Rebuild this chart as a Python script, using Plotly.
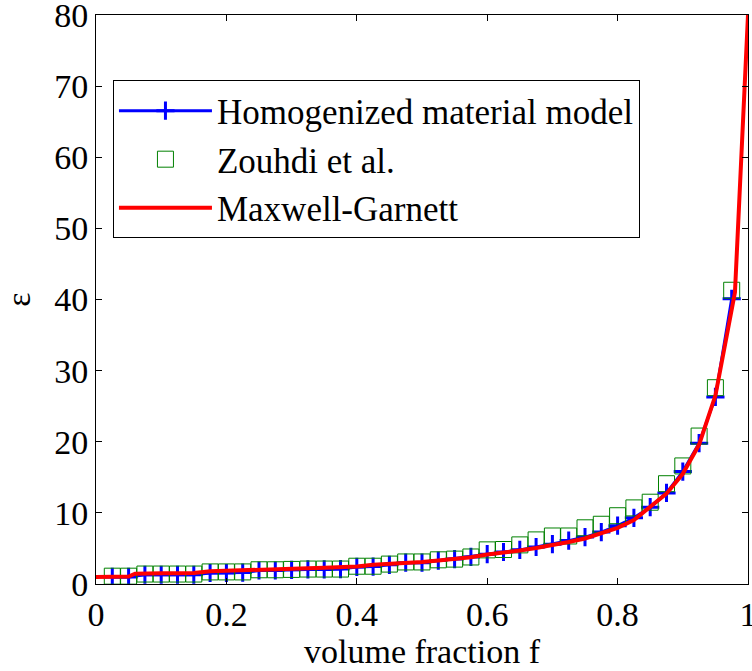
import plotly.graph_objects as go

f_pts = [0.025, 0.05, 0.075, 0.1, 0.125, 0.15, 0.175, 0.2, 0.225, 0.25,
         0.275, 0.3, 0.325, 0.35, 0.375, 0.4, 0.425, 0.45, 0.475, 0.5,
         0.525, 0.55, 0.575, 0.6, 0.625, 0.65, 0.675, 0.7, 0.725, 0.75,
         0.775, 0.8, 0.825, 0.85, 0.875, 0.9, 0.925, 0.95, 0.975]

homog = [1.0, 1.0, 1.3, 1.3, 1.3, 1.3, 1.55, 1.55, 1.6, 1.9,
         1.9, 2.0, 2.05, 2.05, 2.1, 2.4, 2.45, 2.7, 3.0, 3.0,
         3.3, 3.5, 3.8, 4.2, 4.5, 4.8, 5.2, 5.6, 6.1, 6.6,
         7.3, 8.2, 9.3, 10.8, 12.8, 15.8, 19.8, 26.3, 40.1]

zouhdi = [1.1, 1.1, 1.4, 1.4, 1.4, 1.4, 1.7, 1.7, 1.7, 2.0,
          2.0, 2.05, 2.1, 2.1, 2.1, 2.5, 2.5, 2.8, 3.1, 3.1,
          3.4, 3.5, 3.8, 4.8, 4.85, 5.5, 6.2, 6.75, 6.75, 7.9,
          8.4, 9.6, 10.7, 11.5, 14.1, 16.6, 20.8, 27.6, 41.3]

f_mg = [0.0, 0.025, 0.05, 0.06, 0.075, 0.1, 0.125, 0.15, 0.175, 0.2,
        0.225, 0.25, 0.275, 0.3, 0.325, 0.35, 0.375, 0.4, 0.425, 0.45,
        0.475, 0.5, 0.525, 0.55, 0.575, 0.6, 0.625, 0.65, 0.675, 0.7,
        0.725, 0.75, 0.775, 0.8, 0.825, 0.85, 0.875, 0.9, 0.925, 0.95,
        0.975, 0.98, 1.0]
maxwell = [1.0, 1.0, 1.05, 1.45, 1.5, 1.5, 1.5, 1.55, 1.8, 1.85,
           1.9, 1.95, 2.1, 2.15, 2.2, 2.3, 2.35, 2.45, 2.7, 2.8,
           2.95, 3.1, 3.3, 3.5, 3.75, 4.15, 4.4, 4.7, 5.05, 5.45,
           5.9, 6.4, 7.1, 7.9, 9.0, 10.9, 12.7, 15.5, 19.6, 26.5,
           38.5, 41.0, 80.0]

x_ticks = [0, 0.2, 0.4, 0.6, 0.8, 1]
x_ticklabels = ["0", "0.2", "0.4", "0.6", "0.8", "1"]
y_ticks = [0, 10, 20, 30, 40, 50, 60, 70, 80]

FONT = "Liberation Serif"
FS = 34
FS_LEG = 35

fig = go.Figure()
fig.add_trace(go.Scatter(
    x=f_pts, y=homog, mode="lines+markers", name="Homogenized material model",
    line=dict(color="#0000ff", width=3),
    marker=dict(symbol="cross-thin", size=13, color="#0000ff",
                line=dict(color="#0000ff", width=3)),
    legendgroup="a"))
fig.add_trace(go.Scatter(
    x=f_pts, y=zouhdi, mode="markers", name="Zouhdi et al.",
    marker=dict(symbol="square-open", size=16, color="#008000",
                line=dict(color="#008000", width=1)),
    legendgroup="b"))
fig.add_trace(go.Scatter(
    x=f_mg, y=maxwell, mode="lines", name="Maxwell-Garnett",
    line=dict(color="#ff0000", width=4),
    legendgroup="c"))

axis_common = dict(showline=True, linecolor="black", linewidth=1, mirror="ticks",
                   ticks="inside", ticklen=6, tickcolor="black", tickwidth=1,
                   showgrid=False, zeroline=False, automargin=False,
                   ticklabeloverflow="allow",
                   tickfont=dict(family=FONT, size=FS, color="black"))

fig.update_layout(
    width=752, height=671,
    margin=dict(l=96, r=4, t=15, b=87),
    plot_bgcolor="white", paper_bgcolor="white",
    font=dict(family=FONT, size=FS, color="black"),
    xaxis=dict(range=[0, 1], tickvals=x_ticks, ticktext=x_ticklabels,
               title=dict(text="volume fraction f", font=dict(family=FONT, size=FS), standoff=0),
               **axis_common),
    yaxis=dict(range=[0, 80.0001], tickvals=y_ticks,
               title=dict(text="ε", font=dict(family=FONT, size=FS), standoff=26),
               **axis_common),
    legend=dict(x=0.026, y=0.885, xanchor="left", yanchor="top",
                bordercolor="black", borderwidth=1, bgcolor="white",
                font=dict(family=FONT, size=FS_LEG, color="black"),
                itemwidth=93, tracegroupgap=0, traceorder="grouped"),
    showlegend=True,
)

fig.write_html("out.html")
